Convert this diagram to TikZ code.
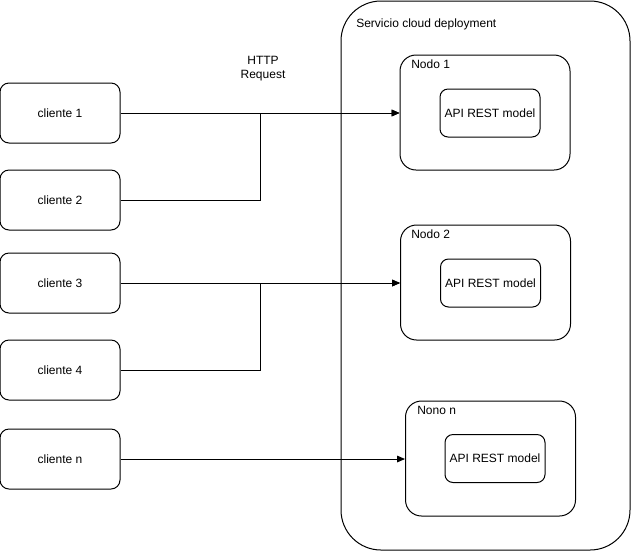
\documentclass[tikz,border=0pt]{standalone}
\usepackage{fontspec}
\setmainfont{Liberation Sans}
\usetikzlibrary{arrows.meta}
\begin{document}
\begin{tikzpicture}[x=0.75pt,y=-0.75pt,
  every node/.style={font=\fontsize{9}{11}\selectfont},
  line/.style={line width=0.75pt,draw=black},
  client/.style={line, rectangle, rounded corners=6.75pt, minimum width=90pt, minimum height=45pt, inner sep=0pt},
  nodebox/.style={line, rectangle, rounded corners=12pt, minimum width=127.5pt, minimum height=86.25pt, inner sep=0pt},
  apibox/.style={line, rectangle, rounded corners=6pt, minimum width=75pt, minimum height=36pt, inner sep=0pt},
  conn/.style={line width=0.75pt},
  arr/.style={conn, -{Triangle[length=6pt,width=5pt]}},
  lbl/.style={anchor=west, inner sep=0pt}]
\useasboundingbox (0,0) rectangle (631,551);

% cloud deployment container
\draw[line, rounded corners=30pt] (341,1) rectangle (630,550);
\node[lbl] (svc) at (356,24) {Servicio cloud deployment};

% deployment nodes
\node[nodebox] (n1) at (485,112.5) {};
\node[lbl] (n1l) at (411,64) {Nodo 1};
\node[apibox] (a1) at (490,113) {API REST model};

\node[nodebox] (n2) at (485.5,282.5) {};
\node[lbl] (n2l) at (411,234) {Nodo 2};
\node[apibox] (a2) at (490.5,283) {API REST model};

\node[nodebox] (nn) at (490.5,458.5) {};
\node[lbl] (nnl) at (417,410) {Nono n};
\node[apibox] (an) at (495,458.5) {API REST model};

% clients
\node[client] (c1) at (60,113) {cliente 1};
\node[client] (c2) at (60,200) {cliente 2};
\node[client] (c3) at (60,283) {cliente 3};
\node[client] (c4) at (60,370) {cliente 4};
\node[client] (cn) at (60,459) {cliente n};

% request label
\node[align=center, inner sep=0pt] (http) at (263,68.5) {HTTP\\Request};

% connectors
\coordinate (j1) at (260,113);
\coordinate (j2) at (260,283);
\draw[arr] (c1.east) -- (c1.east -| n1.west);
\draw[arr] (c2.east) -| (j1) -- (c1.east -| n1.west);
\draw[arr] (c3.east) -- (c3.east -| n2.west);
\draw[arr] (c4.east) -| (j2) -- (c3.east -| n2.west);
\draw[arr] (cn.east) -- (cn.east -| nn.west);
\end{tikzpicture}
\end{document}
